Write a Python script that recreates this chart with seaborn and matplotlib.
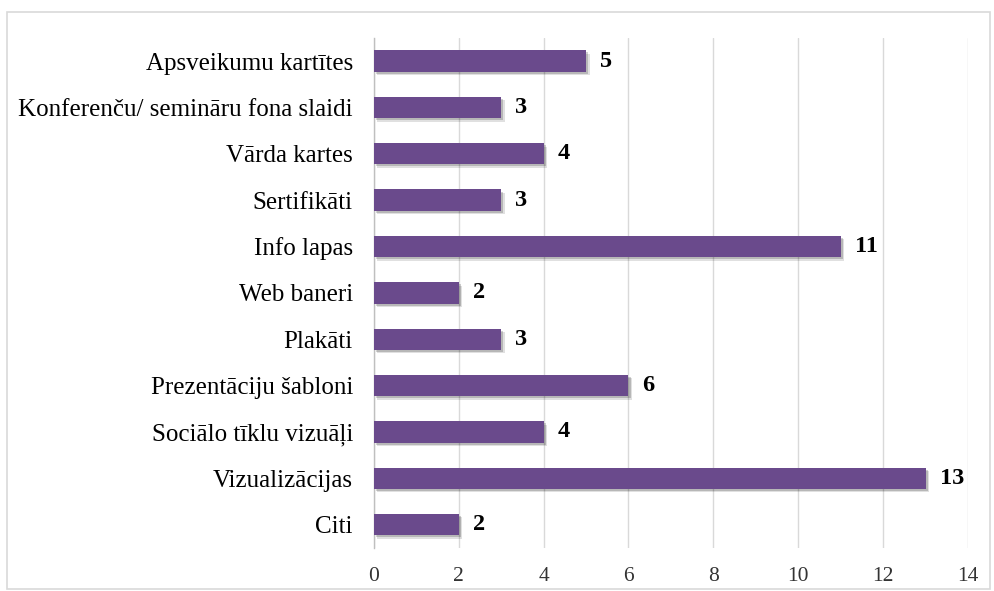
import matplotlib.pyplot as plt
import matplotlib.patheffects as pe
import seaborn as sns
import pandas as pd

categories = [
    'Apsveikumu kartītes',
    'Konferenču/ semināru fona slaidi',
    'Vārda kartes',
    'Sertifikāti',
    'Info lapas',
    'Web baneri',
    'Plakāti',
    'Prezentāciju šabloni',
    'Sociālo tīklu vizuāļi',
    'Vizualizācijas',
    'Citi',
]
counts = [5, 3, 4, 3, 11, 2, 3, 6, 4, 13, 2]
x_ticks = [0, 2, 4, 6, 8, 10, 12, 14]

sns.set_theme(style='white')
plt.rcParams['font.family'] = ['Liberation Serif', 'DejaVu Serif']

df = pd.DataFrame({'cat': categories, 'n': counts})

fig = plt.figure(figsize=(9.94, 5.91), dpi=100)
ax = fig.add_axes([0.376, 0.073, 0.598, 0.863])

sns.barplot(data=df, x='n', y='cat', orient='h', color='#6A4A8C',
            saturation=1, width=0.46, linewidth=0, ax=ax, zorder=3)

# soft drop shadow like the original
shadow = [pe.SimplePatchShadow(offset=(2.5, -2.5), shadow_rgbFace='black', alpha=0.12),
          pe.SimplePatchShadow(offset=(1.5, -1.5), shadow_rgbFace='black', alpha=0.18),
          pe.Normal()]
for p in ax.patches:
    p.set_path_effects(shadow)

for i, v in enumerate(counts):
    ax.text(v + 0.33, i, str(v), va='center', ha='left',
            fontsize=17.5, fontweight='bold', color='black')

ax.set_xlim(0, 14)
ax.set_xticks(x_ticks)
ax.set_xlabel('')
ax.set_ylabel('')
ax.tick_params(axis='x', labelsize=15.5, length=0, pad=14, colors='#333333')
ax.tick_params(axis='y', labelsize=18, length=0, pad=15, colors='black')

ax.grid(axis='x', color='#D9D9D9', linewidth=1, zorder=0)
ax.grid(axis='y', visible=False)
ax.set_axisbelow(True)

for s in ['top', 'right', 'bottom']:
    ax.spines[s].set_visible(False)
ax.spines['left'].set_color('#BFBFBF')
ax.spines['left'].set_linewidth(1)

border = plt.Rectangle((0.007, 0.004), 0.989, 0.975, transform=fig.transFigure,
                       fill=False, edgecolor='#D9D9D9', linewidth=1.2)
fig.patches.append(border)

fig.savefig('out.png', dpi=100)
